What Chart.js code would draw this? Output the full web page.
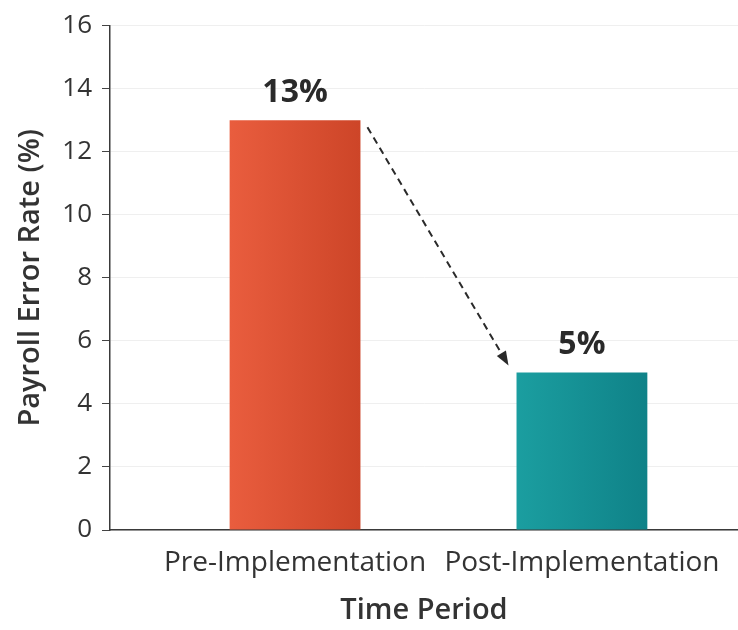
<!DOCTYPE html>
<html>
<head>
<meta charset="utf-8">
<script src="https://cdn.jsdelivr.net/npm/chart.js@4.4.1/dist/chart.umd.min.js"></script>
<style>
  html, body { margin: 0; padding: 0; background: #ffffff; }
  #wrap { width: 738px; height: 630px; }
</style>
</head>
<body>
<div id="wrap"><canvas id="chart" width="738" height="630"></canvas></div>
<script>
// Payroll error rate before and after the new system went live
const categories = ['Pre-Implementation', 'Post-Implementation'];
const errorRates = [13, 5];
const yTickValues = [0, 2, 4, 6, 8, 10, 12, 14, 16];
const barGradients = [
  ['#e95d3e', '#cd4528'],
  ['#1b9ea0', '#0f8288']
];

const FONT = "'Open Sans', 'Noto Sans', sans-serif";
const TEXT = '#333333';
const BAR_FRACTION = 0.456;

// Horizontal gradient across each bar's own width
function barFill(ctx) {
  const chart = ctx.chart;
  const i = ctx.dataIndex;
  const colors = barGradients[i] || barGradients[0];
  const xs = chart.scales.x;
  if (!chart.chartArea || !xs || ctx.parsed === undefined) return colors[0];
  const cx = xs.getPixelForValue(ctx.parsed.x);
  const half = (xs.getPixelForValue(1) - xs.getPixelForValue(0)) * BAR_FRACTION / 2;
  if (!isFinite(cx) || !isFinite(half)) return colors[0];
  const g = chart.ctx.createLinearGradient(cx - half, 0, cx + half, 0);
  g.addColorStop(0, colors[0]);
  g.addColorStop(1, colors[1]);
  return g;
}

// Value labels above the bars and the dashed arrow between them
const annotate = {
  id: 'annotate',
  afterDatasetsDraw(chart) {
    const ctx = chart.ctx;
    const bars = chart.getDatasetMeta(0).data;
    ctx.save();
    ctx.fillStyle = '#2a2a2a';
    ctx.font = `700 32px ${FONT}`;
    ctx.textAlign = 'center';
    ctx.textBaseline = 'middle';
    bars.forEach((bar, i) => {
      ctx.fillText(errorRates[i] + '%', bar.x, bar.y - 27);
    });

    if (bars.length > 1) {
      const a = bars[0], b = bars[1];
      const x0 = a.x + a.width / 2 + 7, y0 = a.y + 7;
      const x1 = b.x - b.width / 2 - 8, y1 = b.y - 7;
      const ang = Math.atan2(y1 - y0, x1 - x0);
      const head = 15;
      ctx.strokeStyle = '#2a2a2a';
      ctx.lineWidth = 2;
      ctx.setLineDash([7, 5]);
      ctx.beginPath();
      ctx.moveTo(x0, y0);
      ctx.lineTo(x1 - Math.cos(ang) * head * 0.8, y1 - Math.sin(ang) * head * 0.8);
      ctx.stroke();
      ctx.setLineDash([]);
      ctx.fillStyle = '#2a2a2a';
      ctx.beginPath();
      ctx.moveTo(x1, y1);
      ctx.lineTo(x1 - head * Math.cos(ang - 0.36), y1 - head * Math.sin(ang - 0.36));
      ctx.lineTo(x1 - head * Math.cos(ang + 0.36), y1 - head * Math.sin(ang + 0.36));
      ctx.closePath();
      ctx.fill();
    }
    ctx.restore();
  }
};

new Chart(document.getElementById('chart'), {
  type: 'bar',
  data: {
    datasets: [{
      data: errorRates.map((v, i) => ({ x: i, y: v })),
      backgroundColor: barFill,
      borderWidth: 0,
      categoryPercentage: 1,
      barPercentage: BAR_FRACTION
    }]
  },
  options: {
    responsive: false,
    animation: false,
    layout: { padding: { top: 22, right: 0, bottom: 0, left: 0 } },
    plugins: { legend: { display: false }, tooltip: { enabled: false } },
    scales: {
      x: {
        type: 'linear',
        offset: false,
        bounds: 'data',
        min: -0.645,
        max: 1.544,
        afterFit(scale) { scale.height = 100; },
        afterBuildTicks(scale) { scale.ticks = categories.map((c, i) => ({ value: i })); },
        grid: { display: false, drawTicks: false },
        border: { display: true, color: '#3a3a3a', width: 1.5 },
        ticks: {
          autoSkip: false,
          maxRotation: 0,
          padding: 16,
          color: TEXT,
          font: { family: FONT, size: 28 },
          callback: (v) => categories[v] !== undefined ? categories[v] : ''
        },
        title: {
          display: true,
          text: 'Time Period',
          color: TEXT,
          font: { family: FONT, size: 29, weight: '600' },
          padding: { top: 0, bottom: 2 }
        }
      },
      y: {
        min: 0,
        max: 16,
        afterFit(scale) { scale.width = 110; },
        afterBuildTicks(scale) { scale.ticks = yTickValues.map(v => ({ value: v })); },
        grid: { color: '#efefef', lineWidth: 1, tickLength: 8, tickColor: '#444444' },
        border: { display: true, color: '#3a3a3a', width: 1.5 },
        ticks: {
          padding: 10,
          color: TEXT,
          font: { family: FONT, size: 26 }
        },
        title: {
          display: true,
          text: 'Payroll Error Rate (%)',
          color: TEXT,
          font: { family: FONT, size: 29, weight: '600' },
          padding: { top: 13, bottom: 0 }
        }
      }
    }
  },
  plugins: [annotate]
});
</script>
</body>
</html>
